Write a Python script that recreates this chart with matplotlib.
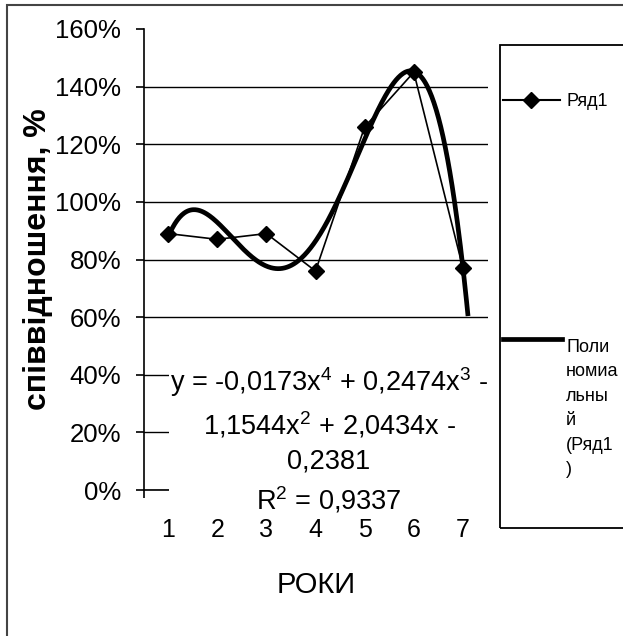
import numpy as np
import matplotlib.pyplot as plt
from matplotlib.patches import Rectangle
from matplotlib.lines import Line2D
from matplotlib.ticker import FixedLocator, PercentFormatter

plt.rcParams['font.family'] = ['Liberation Sans', 'DejaVu Sans']
plt.rcParams['mathtext.fontset'] = 'custom'
plt.rcParams['mathtext.rm'] = 'Liberation Sans'
plt.rcParams['mathtext.it'] = 'Liberation Sans'

# data
years = [1, 2, 3, 4, 5, 6, 7]
ratio = [0.89, 0.87, 0.89, 0.76, 1.26, 1.45, 0.77]
y_ticks = [0, 0.2, 0.4, 0.6, 0.8, 1.0, 1.2, 1.4, 1.6]
eq_text = ("y = -0,0173x$^4$ + 0,2474x$^3$ -\n"
           "1,1544x$^2$ + 2,0434x -\n"
           "0,2381\n"
           "R$^2$ = 0,9337")
series_name = 'Ряд1'
trend_name = 'Поли\nномиа\nльны\nй\n(Ряд1\n)'

W, H = 623, 636


def fx(px):
    return px / W


def fy(py):
    return 1 - py / H


fig = plt.figure(figsize=(W / 100, H / 100), dpi=100)
ax = fig.add_axes([fx(143.5), fy(490), fx(487.5) - fx(143.5), fy(29) - fy(490)])

# 4th order polynomial trend (same as Excel trendline), stops at the 60% line
coef = np.polyfit(years, ratio, 4)
tx = np.linspace(years[0], years[-1] + 0.15, 400)
ty = np.polyval(coef, tx)
keep = ty >= 0.6
ax.plot(tx[keep], ty[keep], color='black', lw=3.4, zorder=4, solid_capstyle='butt')
ax.plot(years, ratio, color='black', lw=1.2, marker='D', ms=8.5, zorder=3)

ax.set_xlim(0.5, 7.5)
ax.set_ylim(0, 1.6)
ax.yaxis.set_major_locator(FixedLocator(y_ticks))
ax.yaxis.set_major_formatter(PercentFormatter(1.0, decimals=0))
ax.set_xticks(years)
ax.xaxis.set_minor_locator(FixedLocator(np.arange(0.5, 8, 1)))
ax.tick_params(axis='x', which='major', length=0, pad=20, labelsize=18)
ax.tick_params(axis='x', which='minor', length=6, width=1.2, direction='out')
ax.tick_params(axis='y', length=6, width=1.2, direction='out', pad=10, labelsize=18.5)
ax.grid(axis='y', color='black', lw=1)
ax.get_ygridlines()[-1].set_visible(False)
for s in ['top', 'right']:
    ax.spines[s].set_visible(False)
for s in ['left', 'bottom']:
    ax.spines[s].set_linewidth(1.2)

# trendline label with white box
fig.text(fx(329), fy(365), eq_text, ha='center', va='top', fontsize=19.5,
         linespacing=1.42, multialignment='center', zorder=10,
         bbox=dict(facecolor='white', edgecolor='none', pad=1))

fig.text(fx(38), fy(259), 'співвідношення, %', rotation=90, ha='center',
         va='center', fontsize=23, fontweight='bold')
fig.text(fx(316), fy(585), 'РОКИ', ha='center', va='center', fontsize=21)

# outer chart border
fig.add_artist(Rectangle((fx(7), fy(700)), fx(700), fy(5) - fy(700),
                         transform=fig.transFigure, fill=False,
                         edgecolor='#444444', lw=1.5))

# legend
fig.add_artist(Rectangle((fx(500), fy(528)), fx(200), fy(45) - fy(528),
                         transform=fig.transFigure, fill=False,
                         edgecolor='black', lw=1.3))
fig.add_artist(Line2D([fx(503), fx(560)], [fy(100), fy(100)], color='black',
                      lw=1.5, transform=fig.transFigure))
fig.add_artist(Line2D([fx(531)], [fy(100)], color='black', marker='D', ms=8.5,
                      transform=fig.transFigure))
fig.text(fx(566), fy(101), series_name, ha='left', va='center', fontsize=13)
fig.add_artist(Line2D([fx(503), fx(562)], [fy(339), fy(339)], color='black',
                      lw=3.4, transform=fig.transFigure))
fig.text(fx(566), fy(339), trend_name, ha='left', va='top', fontsize=13,
         linespacing=1.57)

fig.savefig('out.png', dpi=100)
